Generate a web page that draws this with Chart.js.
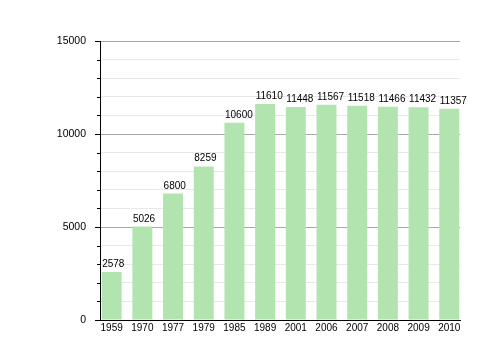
<!DOCTYPE html>
<html><head><meta charset="utf-8">
<script src="https://cdn.jsdelivr.net/npm/chart.js@4/dist/chart.umd.min.js"></script>
<style>html,body{margin:0;padding:0;background:#fff}#w{width:500px;height:360px}</style>
</head><body><div id="w"><canvas id="c" width="500" height="360"></canvas></div>
<script>
const years = ['1959','1970','1977','1979','1985','1989','2001','2006','2007','2008','2009','2010'];
const population = [2578,5026,6800,8259,10600,11610,11448,11567,11518,11466,11432,11357];
const yMax = 15000;
const FONT = '"Liberation Sans", Arial, sans-serif';

const points = years.map((y, i) => ({ x: i, y: population[i] }));

const extras = {
  id: 'extras',
  afterDatasetsDraw(chart) {
    const ctx = chart.ctx;
    const meta = chart.getDatasetMeta(0);
    ctx.save();
    ctx.font = '10px ' + FONT;
    ctx.fillStyle = '#000';
    ctx.textAlign = 'left';
    ctx.textBaseline = 'alphabetic';
    meta.data.forEach((el, i) => {
      ctx.fillText(String(population[i]), el.x - el.width / 2 + 0.5, el.y - 5);
    });
    // minor ticks on y axis
    const ys = chart.scales.y;
    ctx.strokeStyle = '#000';
    ctx.lineWidth = 1;
    for (let v = 0; v <= yMax; v += 1000) {
      if (v % 5000 === 0) continue;
      const py = Math.round(ys.getPixelForValue(v)) + 0.5;
      ctx.beginPath();
      ctx.moveTo(ys.right - 3, py);
      ctx.lineTo(ys.right, py);
      ctx.stroke();
    }
    ctx.restore();
  }
};

new Chart(document.getElementById('c'), {
  type: 'bar',
  data: { datasets: [{ data: points, backgroundColor: 'rgb(178,228,175)', borderWidth: 0, barPercentage: 0.65, categoryPercentage: 1 }] },
  options: {
    responsive: false, animation: false, devicePixelRatio: 1,
    layout: { padding: { left: 0, right: 40, top: 41, bottom: 0 } },
    plugins: { legend: { display: false }, tooltip: { enabled: false } },
    scales: {
      x: {
        type: 'linear', offset: false,
        min: -0.38, max: 11.35,
        afterBuildTicks: s => { s.ticks = years.map((_, i) => ({ value: i })); },
        grid: { display: false, drawTicks: false },
        border: { display: true, color: '#000', width: 1 },
        ticks: { color: '#000', font: { size: 10, family: FONT }, padding: 2, maxRotation: 0, autoSkip: false,
          callback: v => years[v] },
        afterFit: s => { s.height = 40; }
      },
      y: {
        min: 0, max: yMax,
        border: { display: true, color: '#000', width: 1 },
        grid: {
          color: c => (c.tick && c.tick.value % 5000 === 0) ? '#a8a8a8' : '#e8e8e8',
          tickColor: c => (c.tick && c.tick.value % 5000 === 0) ? '#000' : 'rgba(0,0,0,0)',
          tickLength: 5, lineWidth: 1
        },
        ticks: {
          stepSize: 1000, color: '#000', padding: 9,
          font: { size: 10.5, family: FONT },
          callback: v => (v % 5000 === 0 ? String(v) : '')
        },
        afterFit: s => { s.width = 100; }
      }
    }
  },
  plugins: [extras]
});
</script></body></html>
